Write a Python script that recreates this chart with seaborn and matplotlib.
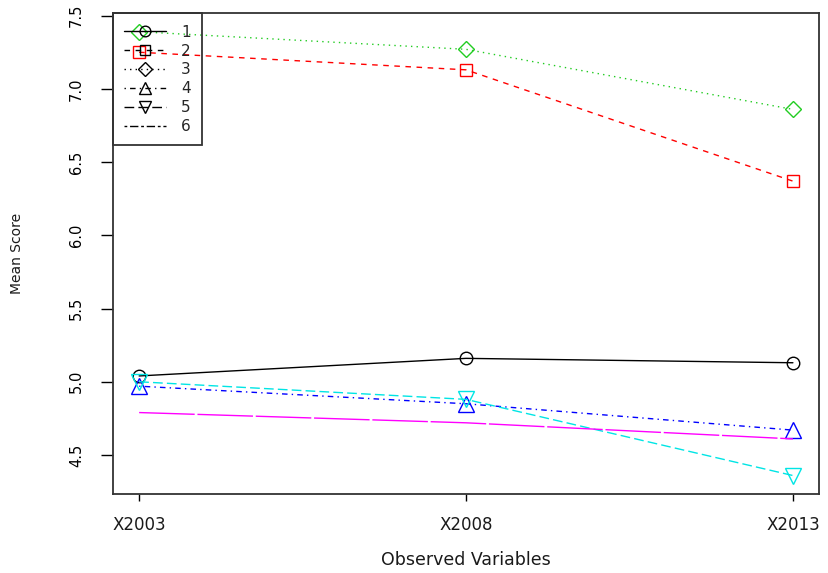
import matplotlib
matplotlib.use('Agg')
import matplotlib.pyplot as plt
from matplotlib.lines import Line2D
import seaborn as sns

# values
variables = ['X2003', 'X2008', 'X2013']
groups = ['1', '2', '3', '4', '5', '6']
score_1 = [5.04, 5.16, 5.13]
score_2 = [7.25, 7.13, 6.37]
score_3 = [7.39, 7.27, 6.86]
score_4 = [4.97, 4.85, 4.67]
score_5 = [5.00, 4.88, 4.36]
score_6 = [4.79, 4.72, 4.61]
scores = [score_1, score_2, score_3, score_4, score_5, score_6]

# R style base palette / line types / symbols
colors = ['black', '#FF0000', '#22CC22', '#0000FF', '#00E5E5', '#FF00FF']
linestyles = ['-', (0, (4, 4)), (0, (1, 3)), (0, (1, 3, 4, 3)), (0, (7, 3)), (0, (40, 2))]
legend_styles = ['-', (0, (4, 4)), (0, (1, 3)), (0, (1, 3, 4, 3)), (0, (7, 3)), (0, (2, 2, 6, 2))]
markers = ['o', 's', 'D', '^', 'v', '']
msizes = [9, 8, 8, 11, 11, 0]

sns.set_theme(style='white')
plt.rcParams['font.family'] = ['DejaVu Sans']

fig = plt.figure(figsize=(8.29, 5.73), dpi=100)
ax = fig.add_axes([0.1363, 0.1379, 0.988 - 0.1363, 0.9768 - 0.1379])

for i in range(len(groups)):
    sns.lineplot(x=variables, y=scores[i], ax=ax, color=colors[i], linestyle=linestyles[i],
                 linewidth=1.0, marker=markers[i] if markers[i] else None, markersize=msizes[i],
                 markerfacecolor='none', markeredgecolor=colors[i], markeredgewidth=1.0,
                 sort=False, legend=False)

ax.set_xlim(-0.08, 2.08)
ax.set_ylim(4.234, 7.516)
ax.set_yticks([4.5, 5.0, 5.5, 6.0, 6.5, 7.0, 7.5])
ax.set_yticklabels(['4.5', '5.0', '5.5', '6.0', '6.5', '7.0', '7.5'], rotation=90, va='center', fontsize=10.5)
ax.tick_params(axis='x', length=5, width=1, pad=11, labelsize=12, direction='out', bottom=True, colors='black')
ax.tick_params(axis='y', length=9, width=1, pad=12, direction='out', left=True, colors='black')
for t in ax.get_xticklabels():
    t.set_color('#1a1a1a')

for s in ax.spines.values():
    s.set_color('#333333')
    s.set_linewidth(1.3)

ax.set_xlabel('Observed Variables', fontsize=12.5, color='#1a1a1a')
ax.set_ylabel('Mean Score', fontsize=10, color='#1a1a1a')
ax.xaxis.set_label_coords(0.5, -0.137)
ax.xaxis.label.set_va('center')
ax.yaxis.set_label_coords(-0.136, 0.5)
ax.yaxis.label.set_va('center')

handles = []
for i in range(len(groups)):
    handles.append(Line2D([], [], color='black', linestyle=legend_styles[i], linewidth=1.0,
                          marker=markers[i] if markers[i] else None, markersize=msizes[i] * 0.85,
                          markerfacecolor='none', markeredgecolor='black'))
leg = ax.legend(handles, groups, loc='upper left', bbox_to_anchor=(0, 1), fontsize=11,
                frameon=True, fancybox=False, framealpha=1, borderaxespad=0,
                handlelength=2.7, handletextpad=1.0, labelspacing=0.25, borderpad=0.75)
leg.get_frame().set_facecolor('none')
leg.get_frame().set_edgecolor('#333333')
leg.get_frame().set_linewidth(1.3)

fig.savefig('out.png', dpi=100)
